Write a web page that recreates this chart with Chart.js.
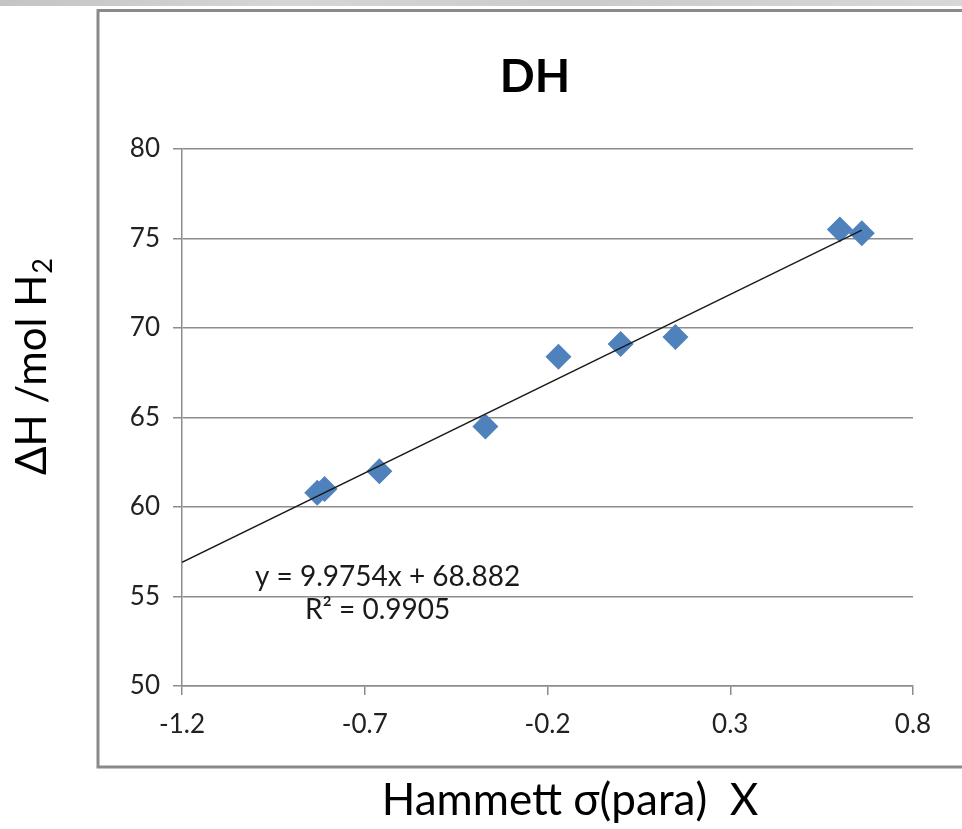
<!DOCTYPE html>
<html>
<head>
<meta charset="utf-8">
<script src="https://cdn.jsdelivr.net/npm/chart.js@4.4.1/dist/chart.umd.min.js"></script>
<style>
  html, body { margin: 0; padding: 0; background: #fff; }
  #wrap { width: 962px; height: 829px; }
</style>
</head>
<body>
<div id="wrap"><canvas id="dhChart" width="962" height="829"></canvas></div>
<script>
// values
const sigmaPara = [-0.83, -0.81, -0.66, -0.37, -0.17, 0.00, 0.15, 0.60, 0.66];
const deltaH = [60.8, 61.0, 62.0, 64.5, 68.4, 69.1, 69.5, 75.5, 75.3];

// trendline as printed on the chart
const slope = 9.9754;
const intercept = 68.882;
const trendX = [-1.2, 0.66];

const xTicks = [-1.2, -0.7, -0.2, 0.3, 0.8];
const xTickLabels = ['-1.2', '-0.7', '-0.2', '0.3', '0.8'];
const yTicks = [50, 55, 60, 65, 70, 75, 80];

const fontFamily = 'Lato, "Noto Sans", sans-serif';
const gridGrey = '#8c8c8c';

const frame = {
  id: 'frame',
  beforeDraw(chart) {
    const ctx = chart.ctx;
    ctx.save();
    ctx.fillStyle = '#fff';
    ctx.fillRect(0, 0, chart.width, chart.height);
    const g = ctx.createLinearGradient(0, 0, chart.width, 0);
    g.addColorStop(0, '#c4c4c4');
    g.addColorStop(0.3, '#d6d6d6');
    g.addColorStop(0.6, '#cbcbcb');
    g.addColorStop(1, '#d8d8d8');
    ctx.fillStyle = g;
    ctx.fillRect(0, 0, chart.width, 6);
    ctx.strokeStyle = '#8a8a8a';
    ctx.lineWidth = 3;
    ctx.beginPath();
    ctx.moveTo(chart.width + 5, 10.5);
    ctx.lineTo(98, 10.5);
    ctx.lineTo(98, 767);
    ctx.lineTo(chart.width + 5, 767);
    ctx.stroke();
    ctx.restore();
  },
  afterDraw(chart) {
    const ctx = chart.ctx;
    ctx.save();
    ctx.fillStyle = '#000';
    ctx.textBaseline = 'middle';

    // title
    ctx.textAlign = 'center';
    ctx.font = 'bold 46px ' + fontFamily;
    ctx.fillText('DH', 535, 77);

    // x axis title
    ctx.font = '44px ' + fontFamily;
    ctx.fillText('Hammett σ(para)  X', 570, 801);

    // y axis title, with subscript
    ctx.translate(32, 367);
    ctx.rotate(-Math.PI / 2);
    ctx.font = '42px ' + fontFamily;
    const main = 'ΔH /mol H';
    const wMain = ctx.measureText(main).width;
    ctx.font = '27px ' + fontFamily;
    const wSub = ctx.measureText('2').width;
    const x0 = -(wMain + wSub) / 2;
    ctx.textAlign = 'left';
    ctx.font = '42px ' + fontFamily;
    ctx.fillText(main, x0, 0);
    ctx.font = '27px ' + fontFamily;
    ctx.fillText('2', x0 + wMain + 1, 11);
    ctx.setTransform(1, 0, 0, 1, 0, 0);

    // trendline equation
    ctx.fillStyle = '#1a1a1a';
    ctx.textAlign = 'left';
    ctx.font = '28px ' + fontFamily;
    ctx.fillText('y = 9.9754x + 68.882', 255, 577);
    ctx.fillText('R² = 0.9905', 305, 610);
    ctx.restore();
  }
};

const ctx = document.getElementById('dhChart').getContext('2d');

new Chart(ctx, {
  data: {
    datasets: [{
      type: 'line',
      label: 'Linear fit',
      data: trendX.map(x => ({ x: x, y: slope * x + intercept })),
      borderColor: '#1a1a1a',
      borderWidth: 1.4,
      pointRadius: 0,
      fill: false,
      order: 0
    }, {
      type: 'scatter',
      label: 'DH',
      data: sigmaPara.map((x, i) => ({ x: x, y: deltaH[i] })),
      pointStyle: 'rectRot',
      pointRadius: 13,
      pointHoverRadius: 13,
      backgroundColor: '#4f81bd',
      borderColor: '#4f81bd',
      borderWidth: 0,
      order: 1
    }]
  },
  options: {
    responsive: false,
    animation: false,
    events: [],
    layout: {
      padding: { left: 0, right: 49, top: 149, bottom: 0 }
    },
    plugins: {
      legend: { display: false },
      title: { display: false },
      tooltip: { enabled: false }
    },
    scales: {
      x: {
        type: 'linear',
        min: -1.2,
        max: 0.8,
        afterFit: s => { s.height = 143; },
        afterBuildTicks: s => { s.ticks = xTicks.map(v => ({ value: v })); },
        ticks: {
          callback: (v, i) => xTickLabels[i],
          color: '#222',
          padding: 14,
          maxRotation: 0,
          font: { family: fontFamily, size: 26 }
        },
        grid: {
          drawOnChartArea: false,
          drawTicks: true,
          tickLength: 9,
          color: gridGrey,
          lineWidth: 1.5
        },
        border: { color: gridGrey, width: 1.5 }
      },
      y: {
        type: 'linear',
        min: 50,
        max: 80,
        afterFit: s => { s.width = 182; },
        afterBuildTicks: s => { s.ticks = yTicks.map(v => ({ value: v })); },
        ticks: {
          color: '#222',
          padding: 13,
          font: { family: fontFamily, size: 26 }
        },
        grid: {
          drawTicks: true,
          tickLength: 9,
          color: gridGrey,
          lineWidth: 1.5
        },
        border: { color: gridGrey, width: 1.5 }
      }
    }
  },
  plugins: [frame]
});
</script>
</body>
</html>
